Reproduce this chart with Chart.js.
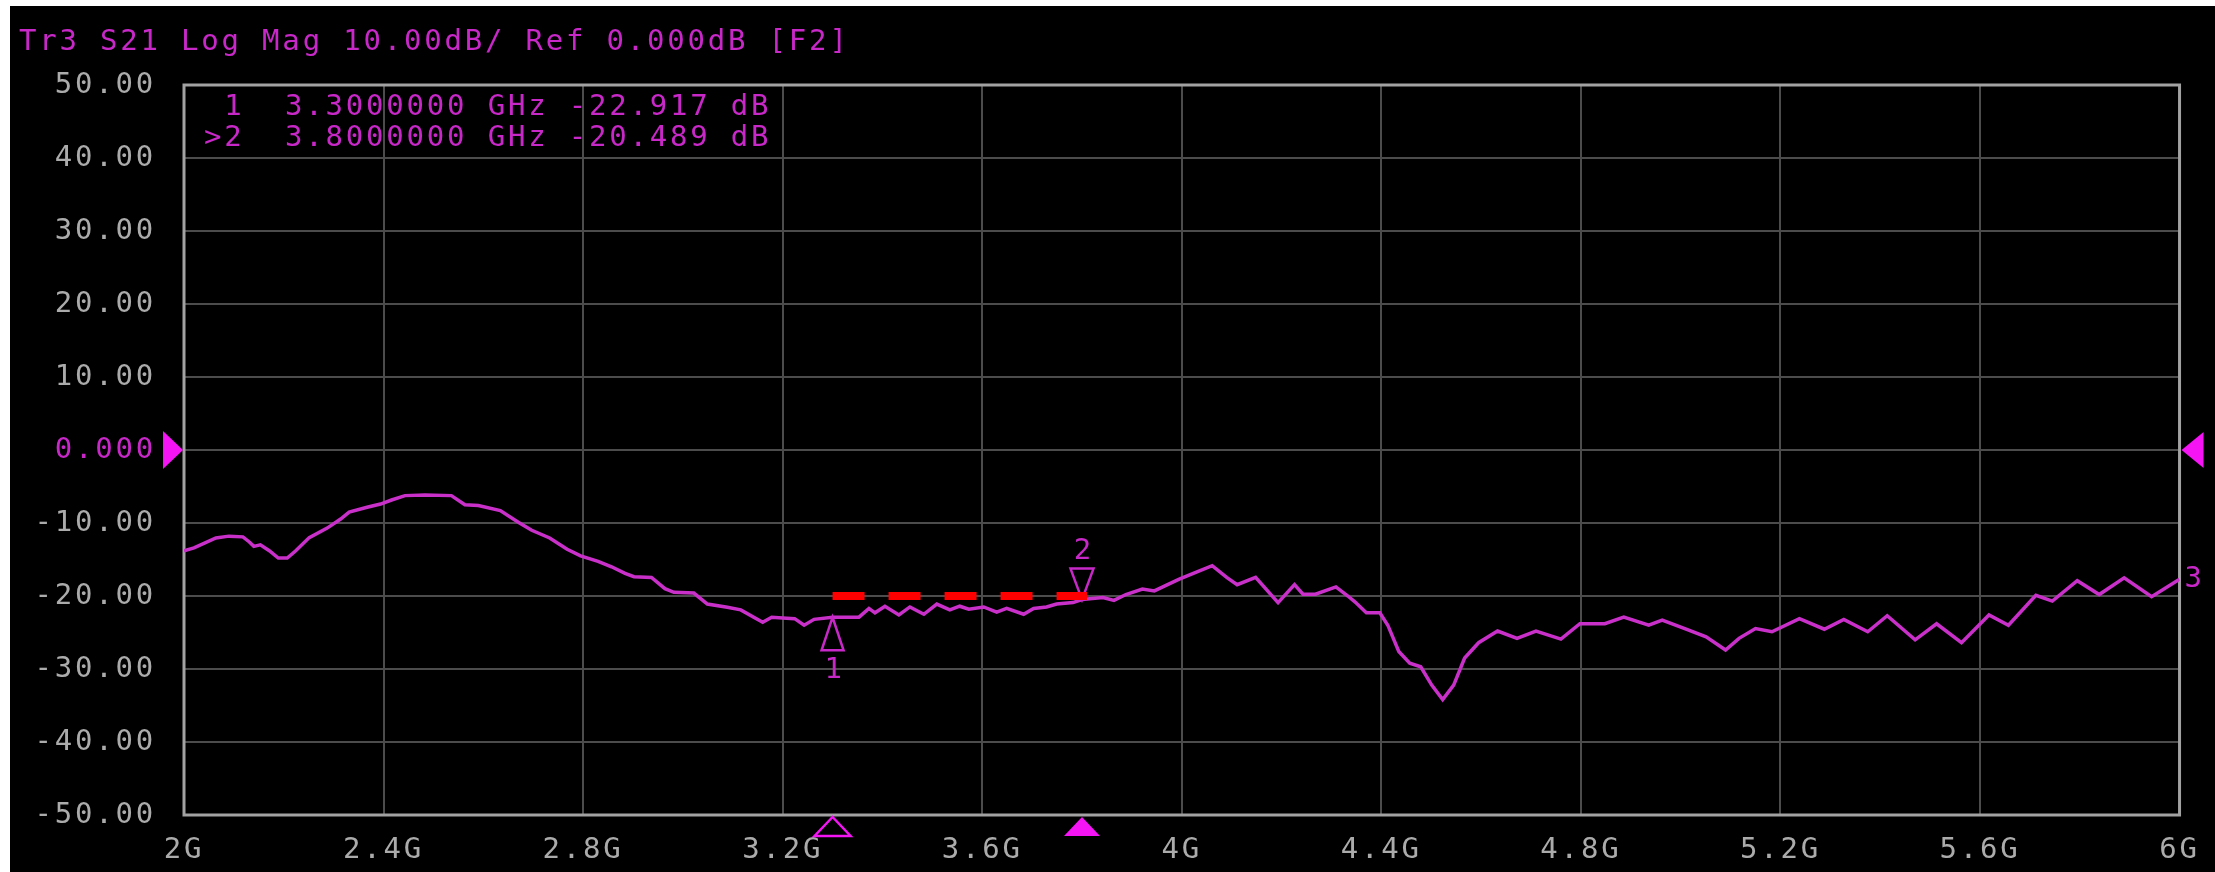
<!DOCTYPE html>
<html>
<head>
<meta charset="utf-8">
<title>Tr3 S21</title>
<script src="https://cdn.jsdelivr.net/npm/chart.js@4.4.1/dist/chart.umd.min.js"></script>
<style>
  html, body { margin: 0; padding: 0; background: #fff; }
  #screen { position: absolute; left: 10px; top: 6px; width: 2205px; height: 866px; background: #000; }
</style>
</head>
<body>
<div id="screen"><canvas id="s21Chart" width="2205" height="866"></canvas></div>
<script>
// trace 3: S21 log magnitude, 2 - 6 GHz
const freqGHz = [
  2.000, 2.020, 2.064, 2.090, 2.118, 2.131, 2.140, 2.153, 2.171, 2.189,
  2.207, 2.224, 2.251, 2.287, 2.314, 2.331, 2.367, 2.394, 2.416, 2.443,
  2.483, 2.536, 2.563, 2.590, 2.634, 2.670, 2.697, 2.733, 2.768, 2.795,
  2.830, 2.857, 2.884, 2.902, 2.937, 2.964, 2.982, 3.022, 3.049, 3.089,
  3.116, 3.160, 3.178, 3.200, 3.224, 3.243, 3.263, 3.300, 3.353, 3.373,
  3.385, 3.405, 3.433, 3.455, 3.483, 3.509, 3.535, 3.555, 3.573, 3.603,
  3.629, 3.649, 3.683, 3.703, 3.729, 3.749, 3.782, 3.800, 3.842, 3.864,
  3.888, 3.921, 3.945, 3.962, 3.995, 4.028, 4.061, 4.090, 4.111, 4.148,
  4.193, 4.226, 4.243, 4.268, 4.309, 4.333, 4.347, 4.370, 4.397, 4.413,
  4.435, 4.457, 4.479, 4.501, 4.523, 4.545, 4.567, 4.595, 4.633, 4.672,
  4.710, 4.760, 4.798, 4.848, 4.886, 4.936, 4.963, 5.007, 5.051, 5.090,
  5.117, 5.150, 5.183, 5.238, 5.288, 5.327, 5.375, 5.414, 5.470, 5.513,
  5.563, 5.618, 5.657, 5.712, 5.745, 5.795, 5.839, 5.889, 5.944, 6.000
];
const s21dB = [
  -13.8, -13.4, -12.05, -11.8, -11.9, -12.6, -13.2, -13.0, -13.8, -14.8,
  -14.8, -13.8, -12.0, -10.7, -9.45, -8.5, -7.85, -7.4, -6.85, -6.25,
  -6.15, -6.25, -7.5, -7.6, -8.3, -9.9, -11.0, -12.05, -13.6, -14.5,
  -15.25, -16.0, -16.9, -17.35, -17.45, -19.0, -19.5, -19.6, -21.1, -21.55,
  -21.9, -23.6, -22.9, -23.0, -23.1, -24.0, -23.2, -22.917, -22.9, -21.7,
  -22.3, -21.4, -22.6, -21.5, -22.5, -21.1, -21.9, -21.4, -21.8, -21.5,
  -22.2, -21.7, -22.5, -21.7, -21.5, -21.1, -20.9, -20.489, -20.2, -20.6,
  -19.8, -19.05, -19.3, -18.75, -17.7, -16.75, -15.85, -17.45, -18.45, -17.45,
  -20.9, -18.45, -19.75, -19.75, -18.75, -20.0, -20.8, -22.3, -22.3, -24.0,
  -27.6, -29.2, -29.7, -32.2, -34.2, -32.2, -28.5, -26.4, -24.8, -25.8,
  -24.8, -25.9, -23.8, -23.8, -22.9, -24.0, -23.3, -24.45, -25.6, -27.4,
  -25.8, -24.45, -24.9, -23.1, -24.55, -23.2, -24.9, -22.7, -26.0, -23.8,
  -26.4, -22.6, -24.0, -19.9, -20.7, -17.9, -19.8, -17.5, -20.1, -17.7
];

// markers
const markerNames = ['1', '2'];
const markerFreq = [3.3, 3.8];
const markerDb = [-22.917, -20.489];
const activeMarker = 1;

// red limit segment
const limitFreq = [3.3, 3.81];
const limitDb = [-20, -20];

// axes
const xTickLabels = ['2G', '2.4G', '2.8G', '3.2G', '3.6G', '4G', '4.4G', '4.8G', '5.2G', '5.6G', '6G'];
const yTickValues = [-50, -40, -30, -20, -10, 0, 10, 20, 30, 40, 50];
const yTickLabels = ['-50.00', '-40.00', '-30.00', '-20.00', '-10.00', '0.000', '10.00', '20.00', '30.00', '40.00', '50.00'];
const refLevel = 0;
const traceName = '3';
const headerText = 'Tr3 S21 Log Mag 10.00dB/ Ref 0.000dB [F2]';

const FONT = 'DejaVu Sans Mono';
const FONT_SIZE = 29;
const magenta = '#c828c8';
const pink = '#f414f4';
const gray = '#ababab';
const gridColor = '#4c4c4c';
const frameColor = '#a2a2a2';

function tri(ctx, x, y, w, h, dir, fill) {
  // apex at (x, y); dir 1 = body below apex, -1 = body above
  ctx.beginPath();
  ctx.moveTo(x, y);
  ctx.lineTo(x - w / 2, y + dir * h);
  ctx.lineTo(x + w / 2, y + dir * h);
  ctx.closePath();
  if (fill) ctx.fill(); else ctx.stroke();
}

const vnaOverlay = {
  id: 'vnaOverlay',
  beforeDraw(chart) {
    chart.ctx.letterSpacing = '2.8px';
  },
  beforeDatasetsDraw(chart) {
    const { ctx, chartArea: a } = chart;
    ctx.save();
    ctx.strokeStyle = frameColor;
    ctx.lineWidth = 3;
    ctx.strokeRect(a.left, a.top, a.right - a.left, a.bottom - a.top);
    ctx.restore();
  },
  afterDatasetDraw(chart, args) {
    if (args.index !== 1) return;
    const { ctx } = chart;
    const xs = chart.scales.x, ys = chart.scales.y;
    ctx.save();
    ctx.strokeStyle = magenta;
    ctx.fillStyle = magenta;
    ctx.lineWidth = 2.5;
    ctx.font = FONT_SIZE + 'px ' + FONT;
    ctx.textAlign = 'center';
    ctx.textBaseline = 'middle';
    markerNames.forEach((name, i) => {
      const px = xs.getPixelForValue(markerFreq[i]);
      const py = ys.getPixelForValue(markerDb[i]);
      if (i === activeMarker) {
        tri(ctx, px, py, 23, 31, -1, false);
        ctx.fillText(name, px + 2, py - 48);
      } else {
        tri(ctx, px, py, 22, 33, 1, false);
        ctx.fillText(name, px + 2, py + 53);
      }
    });
    ctx.restore();
  },
  afterDraw(chart) {
    const { ctx, chartArea: a } = chart;
    const xs = chart.scales.x, ys = chart.scales.y;
    ctx.save();
    ctx.font = FONT_SIZE + 'px ' + FONT;
    ctx.textBaseline = 'middle';
    ctx.textAlign = 'left';
    ctx.fillStyle = magenta;
    ctx.fillText(headerText, 9, 36);

    // marker readout
    markerNames.forEach((name, i) => {
      const line = (i === activeMarker ? '>' : ' ') + name + '  ' +
        markerFreq[i].toFixed(7) + ' GHz ' + markerDb[i].toFixed(3) + ' dB';
      ctx.fillText(line, a.left + 20, 101 + i * 31);
    });

    // trace number at the end of the trace
    ctx.fillText(traceName, a.right + 5, ys.getPixelForValue(s21dB[s21dB.length - 1]));

    // reference level arrows
    const y0 = ys.getPixelForValue(refLevel);
    ctx.fillStyle = pink;
    ctx.beginPath();
    ctx.moveTo(a.left - 1, y0);
    ctx.lineTo(a.left - 21, y0 - 19);
    ctx.lineTo(a.left - 21, y0 + 19);
    ctx.closePath();
    ctx.fill();
    ctx.beginPath();
    ctx.moveTo(a.right + 2, y0);
    ctx.lineTo(a.right + 24, y0 - 18);
    ctx.lineTo(a.right + 24, y0 + 18);
    ctx.closePath();
    ctx.fill();

    // marker stimulus arrows under the x axis
    ctx.strokeStyle = pink;
    ctx.lineWidth = 2.5;
    markerFreq.forEach((f, i) => {
      tri(ctx, xs.getPixelForValue(f), a.bottom + 2, 36, 19, 1, i === activeMarker);
    });
    ctx.restore();
  }
};

const ctx = document.getElementById('s21Chart');

const chart = new Chart(ctx, {
  type: 'line',
  data: {
    datasets: [
      {
        label: 'limit',
        data: limitFreq.map((f, i) => ({ x: f, y: limitDb[i] })),
        borderColor: '#ff0000',
        borderWidth: 8,
        borderDash: [32, 24],
        borderCapStyle: 'butt',
        pointRadius: 0,
      },
      {
        label: 'S21',
        data: freqGHz.map((f, i) => ({ x: f, y: s21dB[i] })),
        borderColor: '#c930c9',
        borderWidth: 3.5,
        pointRadius: 0,
        tension: 0,
      },
    ],
  },
  options: {
    responsive: false,
    animation: false,
    layout: {
      padding: { left: 0, top: 79, right: 24, bottom: 0 },
    },
    scales: {
      x: {
        type: 'linear',
        min: 2,
        max: 6,
        ticks: {
          stepSize: 0.4,
          autoSkip: false,
          maxRotation: 0,
          padding: 18,
          color: gray,
          font: { family: FONT, size: FONT_SIZE },
          callback: (value, index) => xTickLabels[index],
        },
        grid: { color: gridColor, lineWidth: 2, drawTicks: false },
        border: { display: false },
        afterFit: (scale) => { scale.height = 57; },
      },
      y: {
        min: -50,
        max: 50,
        ticks: {
          stepSize: 10,
          padding: 28,
          color: (c) => (c.tick && c.tick.value === refLevel ? magenta : gray),
          font: { family: FONT, size: FONT_SIZE },
          callback: (value) => yTickLabels[yTickValues.indexOf(value)],
        },
        grid: { color: gridColor, lineWidth: 2, drawTicks: false },
        border: { display: false },
        afterFit: (scale) => { scale.width = 174; },
      },
    },
    plugins: {
      legend: { display: false },
      tooltip: { enabled: false },
    },
  },
  plugins: [vnaOverlay],
});
</script>
</body>
</html>
